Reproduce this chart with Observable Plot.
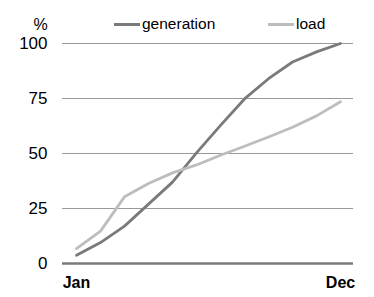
<!DOCTYPE html>
<html>
<head>
<meta charset="utf-8">
<script src="https://cdn.jsdelivr.net/npm/d3@7"></script>
<script src="https://cdn.jsdelivr.net/npm/@observablehq/plot@0.6"></script>
<style>
  html, body { margin: 0; padding: 0; background: #fff; }
  #wrap { position: relative; width: 374px; height: 297px; font-family: "Liberation Sans", Arial, sans-serif; }
  #legend { position: absolute; left: 0; top: 15px; width: 374px; height: 20px; font-size: 15.5px; color: #000; }
  .item { position: absolute; display: flex; align-items: center; }
  .sw { width: 26px; height: 3px; margin-right: 2px; }
</style>
</head>
<body>
<div id="wrap">
  <div id="chart"></div>
  <div id="legend"></div>
</div>
<script>
const months = ["Jan","Feb","Mar","Apr","May","Jun","Jul","Aug","Sep","Oct","Nov","Dec"];
const generation = [3.7, 9.5, 17, 27, 37, 50.3, 62.8, 74.8, 84, 91.6, 96.2, 100];
const load = [6.8, 14.7, 30.3, 36.4, 41.2, 44.8, 49.2, 53.3, 57.5, 61.9, 67.1, 73.5];
const seriesNames = ["generation", "load"];
const seriesColors = ["#7a7a7a", "#bdbdbd"];
const yTicks = [0, 25, 50, 75, 100];
const xLabels = ["Jan", "Dec"];

const rows = [];
months.forEach((m, i) => {
  rows.push({month: m, value: generation[i], series: "generation"});
  rows.push({month: m, value: load[i], series: "load"});
});

const chart = Plot.plot({
  width: 374,
  height: 297,
  marginLeft: 62,
  marginRight: 21,
  marginTop: 43,
  marginBottom: 34,
  style: {fontFamily: "'Liberation Sans', Arial, sans-serif", fontSize: "16px", background: "#fff", color: "#000"},
  x: {type: "point", domain: months, padding: 0.5, label: null},
  y: {domain: [0, 100], label: null},
  color: {domain: seriesNames, range: seriesColors},
  marks: [
    Plot.gridY(yTicks.filter(d => d > 0), {stroke: "#999", strokeOpacity: 1, strokeWidth: 1}),
    Plot.ruleY([0], {stroke: "#7a7a7a", strokeWidth: 2.5}),
    Plot.axisY(yTicks, {tickSize: 0, tickPadding: 15, fontSize: 17, label: null}),
    Plot.axisX({tickSize: 0, tickPadding: 13, fontSize: 16, fontWeight: "bold", label: null,
      tickFormat: d => xLabels.includes(d) ? d : ""}),
    Plot.text(["%"], {frameAnchor: "top-left", dx: -29, dy: -25, fontSize: 16, fill: "#000"}),
    Plot.line(rows, {x: "month", y: "value", z: "series", stroke: "series", strokeWidth: 2.8, strokeLinejoin: "round"})
  ]
});
document.getElementById("chart").appendChild(chart);

const legend = document.getElementById("legend");
const lefts = [114, 268];
seriesNames.forEach((name, i) => {
  const item = document.createElement("div");
  item.className = "item";
  item.style.left = lefts[i] + "px";
  const sw = document.createElement("div");
  sw.className = "sw";
  sw.style.background = seriesColors[i];
  const t = document.createElement("span");
  t.textContent = name;
  item.appendChild(sw);
  item.appendChild(t);
  legend.appendChild(item);
});
</script>
</body>
</html>
